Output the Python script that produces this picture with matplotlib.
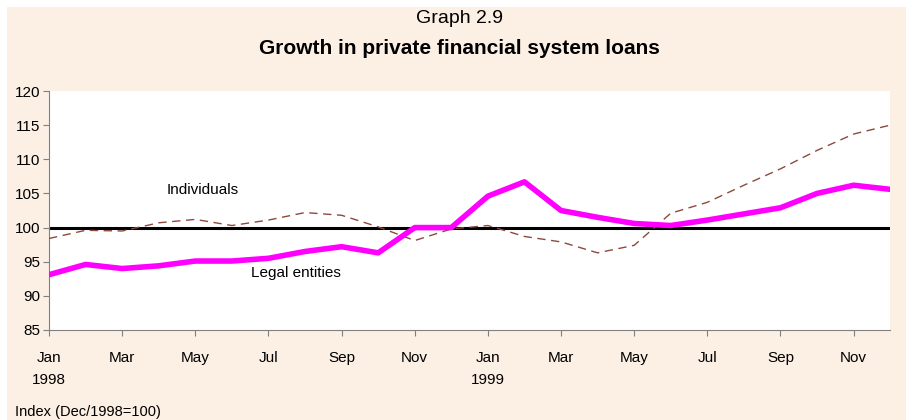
import numpy as np
import matplotlib.pyplot as plt
from matplotlib.patches import Rectangle

plt.rcParams['font.family'] = ['Liberation Sans', 'DejaVu Sans']

# months Jan 1998 .. Dec 1999
months = ["Jan", "Feb", "Mar", "Apr", "May", "Jun",
          "Jul", "Aug", "Sep", "Oct", "Nov", "Dec"] * 2
legal = [93.1, 94.6, 94.0, 94.4, 95.1, 95.1, 95.5, 96.5, 97.2, 96.3, 100.0, 100.0,
         104.6, 106.7, 102.5, 101.5, 100.6, 100.3, 101.1, 102.0, 102.9, 105.0, 106.2, 105.6]
individuals = [98.4, 99.6, 99.5, 100.7, 101.2, 100.3, 101.1, 102.2, 101.8, 100.1, 98.1, 99.8,
               100.3, 98.7, 97.9, 96.3, 97.4, 102.1, 103.7, 106.2, 108.6, 111.3, 113.7, 115.0]
tick_labels = ["Jan\n1998", "Mar", "May", "Jul", "Sep", "Nov",
               "Jan\n1999", "Mar", "May", "Jul", "Sep", "Nov"]

bg = "#FCEFE4"
x = np.arange(len(months))

fig = plt.figure(figsize=(9.13, 4.2), dpi=100, facecolor="white")
# cream panel with thin white margin at left, top and right
fig.patches.append(Rectangle((7 / 913, 0), 899 / 913, 413 / 420, transform=fig.transFigure,
                             facecolor=bg, edgecolor="none", zorder=-10))

ax = fig.add_axes([0.0537, 0.2143, 0.9213, 0.569])
ax.set_zorder(1)
ax.set_facecolor("white")

ax.axhline(100, color="black", lw=2.2, zorder=2)
ax.plot(x, individuals, color="#8B4A3C", lw=1.0, dashes=(6, 4), zorder=3)
ax.plot(x, legal, color="#FF00FF", lw=4, solid_capstyle="round", zorder=4)

ax.set_xlim(0, 23)
ax.set_ylim(85, 120)
ax.set_yticks(np.arange(85, 121, 5))
ax.set_xticks(x[::2])
ax.set_xticklabels(tick_labels, linespacing=1.7, va="top")

for s in ["top", "right"]:
    ax.spines[s].set_visible(False)
for s in ["left", "bottom"]:
    ax.spines[s].set_color("#808080")
ax.tick_params(axis="both", colors="#808080", labelcolor="black", labelsize=11, direction="out")
ax.tick_params(axis="x", length=4, pad=11)
ax.tick_params(axis="y", length=4, pad=2)

ax.text(4.2, 105.5, "Individuals", fontsize=11, ha="center", va="center")
ax.text(6.75, 93.3, "Legal entities", fontsize=11, ha="center", va="center")

fig.text(0.503, 0.955, "Graph 2.9", fontsize=14, ha="center", va="center")
fig.text(0.503, 0.885, "Growth in private financial system loans", fontsize=15,
         ha="center", va="center", fontweight="bold")
fig.text(15 / 913, 0.02, "Index (Dec/1998=100)", fontsize=10.5, ha="left", va="center")

fig.savefig("out.png", dpi=100, facecolor="white")
